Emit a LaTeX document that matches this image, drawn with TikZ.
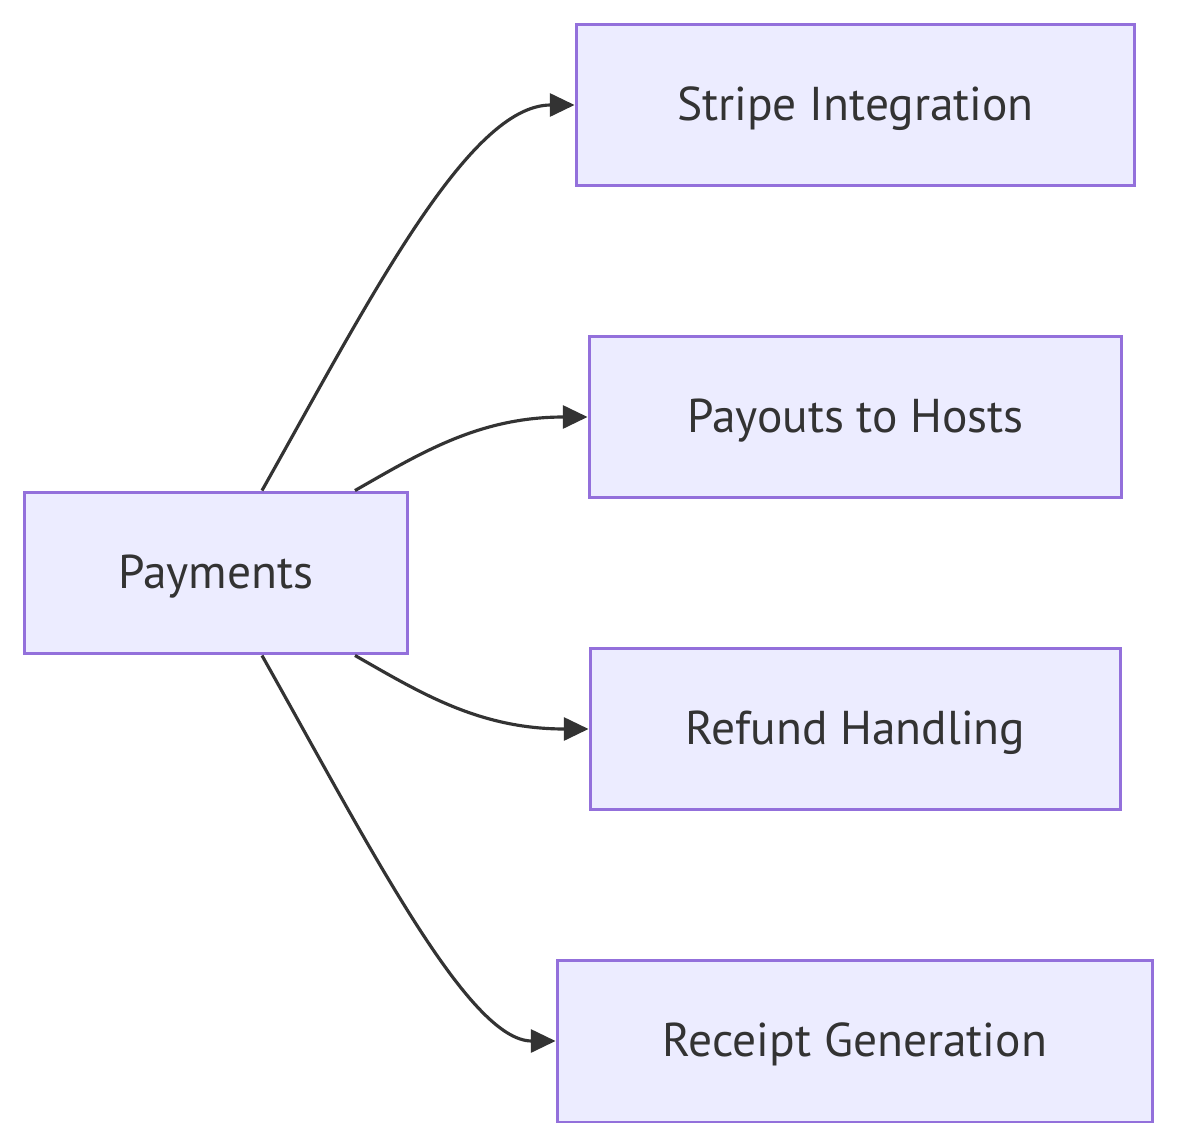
\documentclass[tikz,border=0pt]{standalone}
\usepackage{fontspec}
\setmainfont{PT Sans}
\usepackage{xcolor}
\definecolor{boxFill}{HTML}{ECECFF}
\definecolor{boxLine}{HTML}{9370DB}
\definecolor{inkDark}{HTML}{333333}
\usepackage{tikz}
\usetikzlibrary{arrows.meta, positioning}

\begin{document}
\begin{tikzpicture}[
  x=0.02cm, y=-0.02cm,
  box/.style={
    draw=boxLine, fill=boxFill, line width=1.7pt,
    minimum height=3.24cm, inner sep=0pt, text height=18pt, text depth=0pt,
    font=\fontsize{27}{32}\selectfont, text=inkDark
  },
  arrow/.style={-{Triangle[length=14pt, width=13pt]}, line width=1.8pt, color=inkDark}
]
  \useasboundingbox (0,0) rectangle (1177,1146);
  \node[box, minimum width=7.68cm] (pay) at (216,573) {Payments};
  \node[box, minimum width=11.18cm] (stripe) at (855.5,105) {Stripe Integration};
  \node[box, minimum width=10.66cm] (payout) at (855.5,417) {Payouts to Hosts};
  \node[box, minimum width=10.62cm] (refund) at (855.5,729) {Refund Handling};
  \node[box, minimum width=11.92cm] (receipt) at (855,1041) {Receipt Generation};
  \draw[arrow] ([xshift=0.92cm]pay.north) .. controls +(108,-192) and +(-106,0) .. (stripe.west);
  \draw[arrow] ([xshift=2.78cm]pay.north) .. controls +(65,-37) and +(-109,0) .. (payout.west);
  \draw[arrow] ([xshift=2.78cm]pay.south) .. controls +(65,37) and +(-110,0) .. (refund.west);
  \draw[arrow] ([xshift=0.92cm]pay.south) .. controls +(108,192) and +(-87,0) .. (receipt.west);
\end{tikzpicture}
\end{document}
